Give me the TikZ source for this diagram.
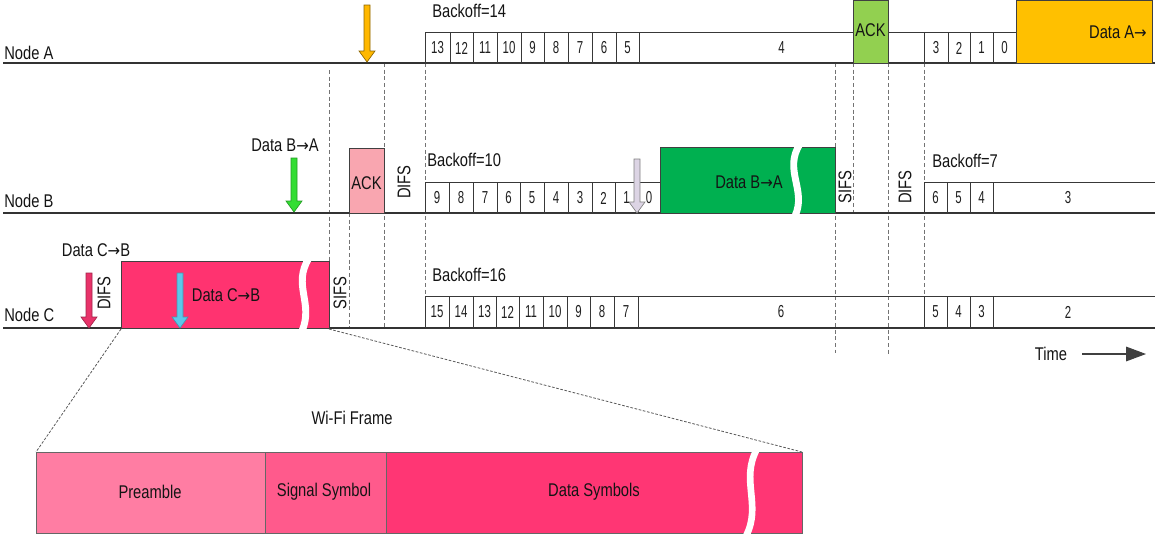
\documentclass[tikz,border=0pt]{standalone}
\usepackage{fontspec}
\setmainfont[FakeStretch=0.8]{Liberation Sans}
\newfontfamily\numfont[FakeStretch=0.66]{Liberation Sans}
\newfontfamily\arrfont[FakeStretch=0.9]{DejaVu Sans}
\newcommand\myrarrow{{\arrfont\fontsize{12.5}{14}\selectfont →}}
\usetikzlibrary{arrows.meta}

\definecolor{dataC}{HTML}{FF3370}
\definecolor{ackB}{HTML}{F9A6B0}
\definecolor{dataB}{HTML}{00B050}
\definecolor{ackA}{HTML}{92D050}
\definecolor{dataA}{HTML}{FFC000}
\definecolor{arrYellow}{HTML}{FFB800}
\definecolor{arrGreen}{HTML}{33DD33}
\definecolor{arrPink}{HTML}{E8336A}
\definecolor{arrCyan}{HTML}{5CC8EA}
\definecolor{arrLav}{HTML}{DCD4E4}
\definecolor{preamble}{HTML}{FF7DA3}
\definecolor{signal}{HTML}{FF5A8C}
\definecolor{datasym}{HTML}{FF3674}

% block arrow: x, y of tail, y of tip, fill, outline
\newcommand\sigarrow[5]{%
  \filldraw[fill=#4, draw=#5, line width=0.5pt]
    (#1-3,#2) -- (#1+3,#2) -- (#1+3,#3-11) -- (#1+8,#3-11) -- (#1,#3)
    -- (#1-8,#3-11) -- (#1-3,#3-11) -- cycle;}

\begin{document}
\begin{tikzpicture}[x=0.75pt,y=-0.75pt,
  lbl/.style={inner sep=0pt, font=\fontsize{13.8}{16}\selectfont, text=black!92},
  num/.style={inner sep=0pt, font=\numfont\fontsize{13}{15}\selectfont, text=black!88},
  vlbl/.style={lbl, rotate=90},
  cellline/.style={draw=black!78, line width=0.75pt},
  axis/.style={draw=black!80, line width=1.1pt},
  guide/.style={draw=black!55, line width=0.7pt, dash pattern=on 3pt off 2pt},
  zoomline/.style={draw=black!65, line width=0.6pt, dash pattern=on 2pt off 1.2pt},
  boxline/.style={draw=black!75, line width=0.7pt},
  gap/.style={draw=white, line width=5.2pt},
]
\useasboundingbox (0,0) rectangle (1159,536);

% ---- timing guides ----
\draw[guide] (329,70) -- (329,328);
\draw[guide] (349,213) -- (349,328);
\draw[guide] (384,63) -- (384,328);
\draw[guide] (425,63) -- (425,296);
\draw[guide] (835,63) -- (835,353);
\draw[guide] (853,63) -- (853,213);
\draw[guide] (888,63) -- (888,355);
\draw[guide] (924,63) -- (924,296);

% ---- Node A ----
\draw[axis] (3,63) -- (1155,63);
\node[lbl, anchor=west] (nA) at (4,53) {Node A};
\node[lbl, anchor=west] (boA) at (432,11) {Backoff=14};
\foreach \xa/\xb/\t [count=\i] in {425/450/13,450/473/12,473/497/11,497/521/10,521/544/9,544/568/8,568/592/7,592/616/6,616/639/5,639/924/4,924/948/3,948/970/2,970/993/1,993/1016/0}{
  \draw[cellline] (\xa,32) rectangle (\xb,63);
  \node[num] (ca\i) at ({(\xa+\xb)/2},48) {\t};
}
\filldraw[fill=ackA, boxline] (853,0.5) rectangle (888,63);
\node[lbl] (ackA) at (870.5,30) {ACK};
\filldraw[fill=dataA, boxline] (1016,0.5) rectangle (1152,63);
\node[lbl, anchor=east] (dA) at (1147,32) {Data A\myrarrow};
\sigarrow{367}{5}{62}{arrYellow}{black!45!arrYellow}

% ---- Node B ----
\draw[axis] (3,213) -- (1155,213);
\node[lbl, anchor=west] (nB) at (4,201) {Node B};
\node[lbl] (dBl) at (285,145) {Data B\myrarrow A};
\sigarrow{294}{158}{212}{arrGreen}{black!30!arrGreen}
\filldraw[fill=ackB, boxline] (349,148) rectangle (384,213);
\node[lbl] (ackB) at (366.5,183) {ACK};
\node[vlbl] (difsB1) at (404,182) {DIFS};
\node[lbl, anchor=west] (boB1) at (427,160) {Backoff=10};
\foreach \xa/\xb/\t [count=\i] in {425/449/9,449/473/8,473/497/7,497/520/6,520/544/5,544/568/4,568/592/3,592/615/2,615/638/1,638/660/0,924/947/6,947/970/5,970/993/4}{
  \draw[cellline] (\xa,182) rectangle (\xb,213);
  \node[num] (cb\i) at ({(\xa+\xb)/2},198) {\t};
}
\draw[cellline] (993,182) -- (1155,182);
\node[num] (cb14) at (1068,198) {3};
\sigarrow{637}{159}{213}{arrLav}{black!50}
\filldraw[fill=dataB, boxline] (660,147) rectangle (835,213);
\draw[gap] (800,144) .. controls (783,170) and (807,190) .. (795,216);
\node[lbl] (dBin) at (749,182) {Data B\myrarrow A};
\node[vlbl] (sifsB) at (845,187) {SIFS};
\node[vlbl] (difsB2) at (905,187) {DIFS};
\node[lbl, anchor=west] (boB2) at (932,161) {Backoff=7};

% ---- Node C ----
\draw[axis] (3,328) -- (1155,328);
\node[lbl, anchor=west] (nC) at (4,315) {Node C};
\node[lbl] (dCl) at (96,250) {Data C\myrarrow B};
\sigarrow{89}{273}{328}{arrPink}{black!30!arrPink}
\node[vlbl] (difsC) at (104,293) {DIFS};
\filldraw[fill=dataC, boxline] (121,261) rectangle (329,328);
\coordinate (cSW) at (121,329);
\coordinate (cSE) at (329,329);
\draw[gap] (309,258) .. controls (292,285) and (314,303) .. (302,331);
\sigarrow{180}{273}{328}{arrCyan}{black!25!arrCyan}
\node[lbl] (dCin) at (226,295) {Data C\myrarrow B};
\node[vlbl] (sifsC) at (340,293) {SIFS};
\node[lbl, anchor=west] (boC) at (432,275) {Backoff=16};
\foreach \xa/\xb/\t [count=\i] in {425/449/15,449/473/14,473/496/13,496/519/12,519/543/11,543/567/10,567/590/9,590/614/8,614/638/7,638/924/6,924/947/5,947/970/4,970/993/3}{
  \draw[cellline] (\xa,296) rectangle (\xb,328);
  \node[num] (cc\i) at ({(\xa+\xb)/2},312) {\t};
}
\draw[cellline] (993,296) -- (1155,296);
\node[num] (cc14) at (1068,312) {2};

% ---- time axis ----
\node[lbl] (time) at (1051,354) {Time};
\coordinate (tS) at (1082,354);
\coordinate (tE) at (1146,354);
\draw[black!75, line width=0.8pt, -{Triangle[length=15pt,width=11pt]}] (tS) -- (tE);

% ---- Wi-Fi frame detail ----
\node[lbl] (wifi) at (352,418) {Wi-Fi Frame};
\fill[preamble] (36,452) rectangle (265,533);
\fill[signal] (265,452) rectangle (386,533);
\fill[datasym] (386,452) rectangle (802,533);
\draw[boxline, draw=black!60] (36,452) rectangle (802,533);
\draw[boxline, draw=black!60] (265,452) -- (265,533);
\draw[boxline, draw=black!60] (386,452) -- (386,533);
\coordinate (fNW) at (36,452);
\coordinate (fNE) at (802,452);
\draw[gap, line width=5pt] (757,449) .. controls (740,480) and (762,505) .. (746,536);
\node[lbl] (pre) at (150,492) {Preamble};
\node[lbl] (sig) at (324,492) {Signal Symbol};
\node[lbl] (dsym) at (594,492) {Data Symbols};
\draw[zoomline] (cSW) -- (fNW);
\draw[zoomline] (cSE) -- (fNE);
\end{tikzpicture}
\end{document}
